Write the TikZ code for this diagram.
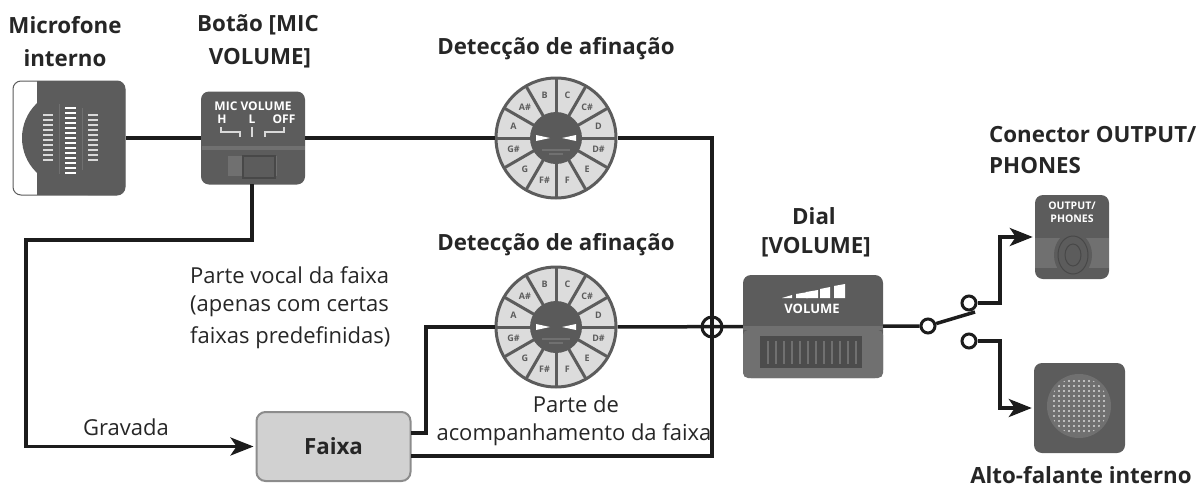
\documentclass[tikz,border=0pt]{standalone}
\usepackage{fontspec}
\setmainfont{Open Sans}
\usetikzlibrary{arrows.meta}
\definecolor{devgray}{HTML}{5C5C5C}
\definecolor{devlight}{HTML}{707070}
\definecolor{devdark}{HTML}{484848}
\definecolor{wirecol}{HTML}{1C1C1C}
\definecolor{padgray}{HTML}{DCDCDC}
\tikzset{
  wire/.style={line width=3.5pt,color=wirecol},
  arrowwire/.style={wire,-{Stealth[length=23pt,width=18pt,inset=6pt]},shorten >=2pt},
  device/.style={rectangle,rounded corners=8pt,fill=devgray,inner sep=0pt},
  tuner/.style={circle,draw=devgray,line width=3pt,fill=padgray,minimum size=120pt,inner sep=0pt},
  swdot/.style={circle,draw=wirecol,line width=3pt,fill=white,minimum size=14pt,inner sep=0pt},
  head/.style={font=\fontsize{22.3}{25}\selectfont\bfseries,color=black!85,inner sep=0pt},
  txt/.style={font=\fontsize{22}{30}\selectfont,color=black!85,inner sep=0pt},
  devtxt/.style={font=\fontsize{12}{14}\selectfont\bfseries,color=white,inner sep=0pt},
  notetxt/.style={font=\fontsize{9}{9}\selectfont\bfseries,color=devgray,inner sep=0pt}
}
\begin{document}
\begin{tikzpicture}[x=1pt,y=-1pt]
  \useasboundingbox (0,0) rectangle (1203,493);
  % headings
  \node[head] (hmic) at (65,25) {Microfone};
  \node[head] (hmicb) at (65,58) {interno};
  \node[head] (hbtn) at (258,25) {Botão [MIC};
  \node[head] (hbtnb) at (260,58) {VOLUME]};
  \node[head] (htunerA) at (556,49) {Detecção de afinação};
  \node[head] (htunerB) at (556,245) {Detecção de afinação};
  \node[head] (hdial) at (814,216) {Dial};
  \node[head] (hdialb) at (816,247) {[VOLUME]};
  \node[head,anchor=west] (hout) at (989,135) {Conector OUTPUT/};
  \node[head,anchor=west] (houtb) at (989,166) {PHONES};
  \node[head] (hspk) at (1081,475) {Alto-falante interno};
  % labels
  \node[txt,anchor=west] (tvocal) at (190,275) {Parte vocal da faixa};
  \node[txt,anchor=west] (tvocalb) at (190,306) {(apenas com certas};
  \node[txt,anchor=west] (tvocalc) at (190,338) {faixas predefinidas)};
  \node[txt] (tgrav) at (126,427) {Gravada};
  \node[txt] (tpart) at (576,404) {Parte de};
  \node[txt] (tpartb) at (574,435) {acompanhamento da faixa};
  % microphone
  \node[device,fill=white,draw=devgray,line width=1pt,minimum width=112pt,minimum height=114pt] (mic) at (69,138) {};
  \fill[devgray,rounded corners=8pt] (80,81) -- (125,81) -- (125,195) -- (80,195) -- cycle;
  \fill[devgray] (37,81) rectangle (90,195);
  \fill[devgray] (70,138) circle (48);
  \foreach \y in {108,113,...,173}
    \draw[white,line width=1.4pt] (65,\y) -- (76,\y);
  \foreach \y in {115,120,...,160}{
    \draw[white!85!black,line width=1.2pt] (43,\y) -- (53,\y);
    \draw[white!85!black,line width=1.2pt] (88,\y) -- (98,\y);
  }
  \draw[devlight,line width=1pt] (59,104) -- (59,174) (82,108) -- (82,170);
  % mic volume switch
  \node[device,minimum width=104pt,minimum height=93pt] (micbtn) at (253,138) {};
  \node[devtxt] (btnmic) at (253,106) {MIC VOLUME};
  \node[devtxt] (btnh) at (222,119) {H};
  \node[devtxt] (btnl) at (252,119) {L};
  \node[devtxt] (btnoff) at (284,119) {OFF};
  \draw[white!85!black,line width=1.4pt] (221,127) -- (221,132) -- (240,132) -- (240,137);
  \draw[white!85!black,line width=1.4pt] (284,127) -- (284,132) -- (265,132) -- (265,137);
  \draw[white!85!black,line width=2pt] (252,127) -- (252,137);
  \fill[devlight] (202,146) rectangle (305,150);
  \fill[devlight] (228,156) rectangle (277,176);
  \fill[devgray] (243,156) rectangle (275,178);
  \draw[devdark,line width=1.5pt] (243,156) rectangle (275,178);
  % tuners
  \node[tuner] (tunerA) at (556,138) {};
  \node[tuner] (tunerB) at (556,327) {};
  \foreach \tuner in {tunerA,tunerB}{
    \foreach \a in {0,30,...,330}
      \draw[devgray,line width=3pt] (\tuner.center) -- ++(\a:60);
    \foreach \note [count=\i] in {C,C\#,D,D\#,E,F,F\#,G,G\#,A,A\#,B}
      \node[notetxt] (\tuner-\i) at ([shift={(-105+30*\i:44)}]\tuner.center) {\note};
    \fill[devdark!90] (\tuner.center) circle (26);
    \fill[white] ([shift={(-20,-3)}]\tuner.center) -- ++(14,3) -- ++(-14,3) -- cycle;
    \fill[white] ([shift={(20,-3)}]\tuner.center) -- ++(-14,3) -- ++(14,3) -- cycle;
    \fill[devlight] ([shift={(-14,11)}]\tuner.center) rectangle ++(28,2);
    \fill[devlight] ([shift={(-7,15)}]\tuner.center) rectangle ++(14,2);
  }
  % volume dial
  \node[device,minimum width=140pt,minimum height=103pt] (dial) at (813,326.5) {};
  \fill[devlight] (743,326) rectangle (883,330);
  \fill[devlight,rounded corners=5pt] (743,330) rectangle (883,378);
  \fill[devdark!80!devgray] (760,336) rectangle (862,368);
  \foreach \x in {768,776,...,856}
    \draw[devlight,line width=1.2pt] (\x,341) -- (\x,364);
  \fill[white] (782,298) -- (792,298) -- (792,295) -- cycle;
  \fill[white] (796,298) -- (808,298) -- (808,292) -- (796,294) -- cycle;
  \fill[white] (806,298) -- (818,298) -- (818,290) -- (806,292) -- cycle;
  \fill[white] (820,298) -- (830,298) -- (830,287) -- (820,289) -- cycle;
  \fill[white] (834,298) -- (845,298) -- (845,284) -- (834,286) -- cycle;
  \node[devtxt,font=\fontsize{13}{14}\selectfont\bfseries] (dialtxt) at (812,309) {VOLUME};
  % track
  \node[device,rounded corners=9pt,fill=padgray!95!black,draw=black!45,line width=2pt,minimum width=154pt,minimum height=69pt,font=\fontsize{22.3}{25}\selectfont\bfseries,text=black!85] (track) at (333.5,446.5) {Faixa};
  % output jack
  \node[device,minimum width=74pt,minimum height=84pt] (output) at (1072,237) {};
  \fill[devlight] (1035,238) rectangle (1109,268);
  \fill[devgray] (1073,255) ellipse (19 and 23);
  \draw[devdark,line width=1pt] (1073,255) ellipse (15 and 19);
  \draw[devdark,line width=1pt] (1073,255) ellipse (8 and 11);
  \node[devtxt,font=\fontsize{10.5}{11}\selectfont\bfseries] (outtxt) at (1072,206) {OUTPUT/};
  \node[devtxt,font=\fontsize{10.5}{11}\selectfont\bfseries] (outtxtb) at (1072,219) {PHONES};
  % speaker
  \node[device,minimum width=91pt,minimum height=90pt] (speaker) at (1079.5,408) {};
  \fill[devlight] (1079,406) circle (32);
  \begin{scope}
    \clip (1079,406) circle (29);
    \foreach \y in {-30,-25,...,30}
      \foreach \x in {-30,-25,...,30}
        \fill[white!85!black] (1079+\x,406+\y) circle (1.2);
  \end{scope}
  % crossing and selector
  \node[circle,draw=wirecol,line width=3pt,minimum size=20pt,inner sep=0pt] (cross) at (712,327) {};
  \node[swdot] (swin) at (928,326) {};
  \node[swdot] (swup) at (969,303) {};
  \node[swdot] (swdn) at (969,341) {};
  \coordinate (lever) at (975,312);
  \coordinate (micout) at (252,184);
  \coordinate (bendB) at (26,240);
  \coordinate (trackup) at (411,433);
  \coordinate (tracklow) at (411,456);
  \coordinate (bendT) at (426,327);
  \coordinate (bendU) at (1000,303);
  \coordinate (bendD) at (1000,341);
  % connectors
  \draw[wire] (mic) -- (micbtn);
  \draw[wire] (micbtn) -- (tunerA);
  \draw[wire] (tunerA) -| (cross.center);
  \draw[wire] (tracklow) -| (cross.center);
  \draw[wire] (tunerB) -- (dial);
  \draw[wire] (trackup) -| (bendT) -- (tunerB);
  \draw[arrowwire] (micout) |- (bendB) |- (track);
  \draw[wire] (dial) -- (swin);
  \draw[wire] (swin) -- (lever);
  \draw[arrowwire] (swup) -- (bendU) |- (output);
  \draw[arrowwire] (swdn) -- (bendD) |- (speaker);
\end{tikzpicture}
\end{document}
